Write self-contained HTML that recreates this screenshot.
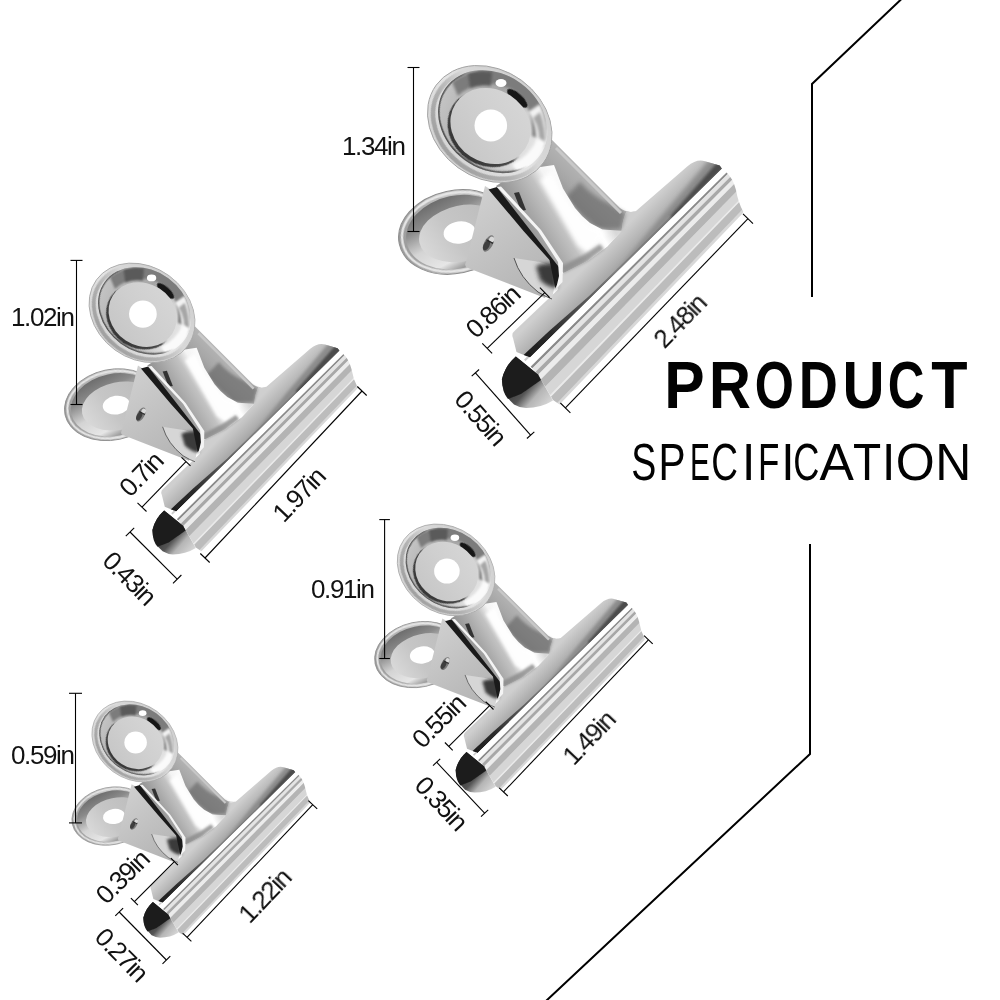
<!DOCTYPE html>
<html><head><meta charset="utf-8"><title>Product Specification</title>
<style>
html,body{margin:0;padding:0;background:#fff;}
svg{display:block;font-family:"Liberation Sans",sans-serif;}
.dl line{stroke:#000;stroke-width:1.1;}
.dt text{font-size:26px;letter-spacing:-1.4px;fill:#111;}
</style></head><body>
<svg width="1000" height="1000" viewBox="0 0 1000 1000">

<defs>
<filter id="b1" x="-10%" y="-10%" width="120%" height="120%"><feGaussianBlur stdDeviation="0.7"/></filter>
<filter id="b15" x="-20%" y="-20%" width="140%" height="140%"><feGaussianBlur stdDeviation="1.4"/></filter>
<filter id="b2" x="-30%" y="-30%" width="160%" height="160%"><feGaussianBlur stdDeviation="2"/></filter>
<linearGradient id="foldg" x1="530" y1="357.5" x2="722" y2="168.7" gradientUnits="userSpaceOnUse">
 <stop offset="0" stop-color="#1e1e1e"/><stop offset="0.12" stop-color="#2c2c2c"/><stop offset="0.3" stop-color="#5a5a5a"/><stop offset="0.45" stop-color="#808080"/><stop offset="0.8" stop-color="#7a7a7a"/>
</linearGradient>
<linearGradient id="plateg" x1="600" y1="252" x2="618" y2="270" gradientUnits="userSpaceOnUse">
 <stop offset="0" stop-color="#cfcfcf"/><stop offset="0.5" stop-color="#bababa"/><stop offset="1" stop-color="#a4a4a4"/>
</linearGradient>
<linearGradient id="tubeg" x1="505" y1="375" x2="545" y2="410" gradientUnits="userSpaceOnUse">
 <stop offset="0" stop-color="#222"/><stop offset="0.5" stop-color="#555"/><stop offset="0.7" stop-color="#b5b5b5"/><stop offset="1" stop-color="#d8d8d8"/>
</linearGradient>
<linearGradient id="bdrim" x1="400" y1="232" x2="510" y2="232" gradientUnits="userSpaceOnUse">
 <stop offset="0" stop-color="#9a9a9a"/><stop offset="0.5" stop-color="#c4c4c4"/><stop offset="1" stop-color="#b0b0b0"/>
</linearGradient>
<linearGradient id="bdwall" x1="430" y1="200" x2="450" y2="270" gradientUnits="userSpaceOnUse">
 <stop offset="0" stop-color="#6c6c6c"/><stop offset="0.25" stop-color="#8a8a8a"/><stop offset="0.55" stop-color="#d4d4d4"/><stop offset="0.85" stop-color="#e6e6e6"/><stop offset="1" stop-color="#9c9c9c"/>
</linearGradient>
<linearGradient id="bdin" x1="420" y1="250" x2="500" y2="215" gradientUnits="userSpaceOnUse">
 <stop offset="0" stop-color="#dadada"/><stop offset="0.4" stop-color="#c6c6c6"/><stop offset="1" stop-color="#bcbcbc"/>
</linearGradient>
<linearGradient id="trig" x1="470" y1="200" x2="540" y2="290" gradientUnits="userSpaceOnUse">
 <stop offset="0" stop-color="#cfcfcf"/><stop offset="1" stop-color="#b4b4b4"/>
</linearGradient>
<linearGradient id="neckside" x1="575" y1="215" x2="600" y2="190" gradientUnits="userSpaceOnUse">
 <stop offset="0" stop-color="#8e8e8e"/><stop offset="0.5" stop-color="#a6a6a6"/><stop offset="1" stop-color="#b4b4b4"/>
</linearGradient>
<linearGradient id="neckfront" x1="515" y1="235" x2="590" y2="190" gradientUnits="userSpaceOnUse">
 <stop offset="0" stop-color="#848484"/><stop offset="0.3" stop-color="#a8a8a8"/><stop offset="0.5" stop-color="#c2c2c2"/><stop offset="0.64" stop-color="#f4f4f4"/><stop offset="0.85" stop-color="#ffffff"/><stop offset="1" stop-color="#d8d8d8"/>
</linearGradient>
<linearGradient id="tdrim" x1="440" y1="170" x2="540" y2="80" gradientUnits="userSpaceOnUse" gradientTransform="rotate(-36 489.75 124)">
 <stop offset="0" stop-color="#cfcfcf"/><stop offset="0.5" stop-color="#e4e4e4"/><stop offset="1" stop-color="#bdbdbd"/>
</linearGradient>
<linearGradient id="tddish" x1="440" y1="100" x2="545" y2="150" gradientUnits="userSpaceOnUse" gradientTransform="rotate(-36 492.7 121.7)">
 <stop offset="0" stop-color="#c4c4c4"/><stop offset="0.45" stop-color="#a6a6a6"/><stop offset="0.8" stop-color="#dcdcdc"/><stop offset="1" stop-color="#ececec"/>
</linearGradient>
<linearGradient id="rimshade" x1="440" y1="165" x2="540" y2="85" gradientUnits="userSpaceOnUse" gradientTransform="rotate(-36 489.75 124)">
 <stop offset="0" stop-color="#9a9a9a"/><stop offset="0.35" stop-color="#b0b0b0"/><stop offset="0.6" stop-color="#d8d8d8"/><stop offset="1" stop-color="#cfcfcf"/>
</linearGradient>
<linearGradient id="e2stroke" x1="440" y1="150" x2="545" y2="95" gradientUnits="userSpaceOnUse" gradientTransform="rotate(-36 492.7 121.7)">
 <stop offset="0" stop-color="#4a4a4a"/><stop offset="0.45" stop-color="#6a6a6a"/><stop offset="0.6" stop-color="#c8c8c8" stop-opacity="0"/><stop offset="1" stop-color="#c8c8c8" stop-opacity="0"/>
</linearGradient>
<linearGradient id="wshadow" x1="450" y1="160" x2="520" y2="100" gradientUnits="userSpaceOnUse" gradientTransform="rotate(-33 488.6 128.2)">
 <stop offset="0" stop-color="#2e2e2e"/><stop offset="0.5" stop-color="#4a4a4a"/><stop offset="0.62" stop-color="#c8c8c8" stop-opacity="0"/><stop offset="1" stop-color="#c8c8c8" stop-opacity="0"/>
</linearGradient>
<linearGradient id="washer" x1="455" y1="150" x2="525" y2="100" gradientUnits="userSpaceOnUse" gradientTransform="rotate(-33 490.5 126)">
 <stop offset="0" stop-color="#c6c6c6"/><stop offset="0.5" stop-color="#cfcfcf"/><stop offset="1" stop-color="#d6d6d6"/>
</linearGradient>
<g id="clip">
<g transform="rotate(-12 455 232)">
<ellipse cx="455" cy="232" rx="57" ry="41.5" fill="url(#bdrim)" stroke="#8e8e8e" stroke-width="1"/>
<ellipse cx="455.5" cy="232" rx="54" ry="39" fill="none" stroke="#e6e6e6" stroke-width="2.4" filter="url(#b1)"/>
<ellipse cx="457" cy="232.5" rx="51.5" ry="36.5" fill="url(#bdwall)"/>
<ellipse cx="462" cy="235" rx="44" ry="28" fill="url(#bdin)"/>
</g>
<ellipse cx="459.5" cy="232.5" rx="16" ry="11" transform="rotate(-8 459.5 232.5)" fill="#fff"/>

<path d="M 513,338 Q 511,333.5 515,330.5 L 557.6,290 L 561.6,274 L 588,260.8 L 607.2,246.4 L 621.6,230.8 Q 622.5,220 626.4,211.6 Q 631,212.5 636,211 L 687.2,166.4 Q 697,158.5 705,161.3 L 719.6,165.5 L 722,168.7 L 530,357.5 L 516.5,352 Z" fill="url(#plateg)"/>
<clipPath id="plateclip"><path d="M 513,338 Q 511,333.5 515,330.5 L 557.6,290 L 561.6,274 L 588,260.8 L 607.2,246.4 L 621.6,230.8 Q 622.5,220 626.4,211.6 Q 631,212.5 636,211 L 687.2,166.4 Q 697,158.5 705,161.3 L 719.6,165.5 L 722,168.7 L 530,357.5 L 516.5,352 Z"/></clipPath>
<g clip-path="url(#plateclip)">
 <polygon points="616.9,273.0 664.9,225.8 734.0,157.9 721.5,145.4 658.7,219.7 616.0,272.2" fill="#8c8c8c" filter="url(#b2)"/>
 <polygon points="520.9,367.4 553.5,335.3 591.9,297.6 636.1,254.2 684.1,207.0 682.0,204.9 634.2,252.2 589.7,295.4 549.2,331.0 515.8,362.3" fill="url(#foldg)" filter="url(#b1)"/>
 <polygon points="672.6,218.3 734.0,157.9 727.2,151.0 670.3,216.0" fill="#4c4c4c" filter="url(#b15)"/>
</g>
<clipPath id="rollclip"><path d="M 517,352 L 530,357.5 L 722,168.7 L 723.6,173.2 L 726,172 Q 733,178 736,190 Q 738,202 743.2,211.6 L 743,213 L 559.6,404.4 L 553,400 L 538,374.4 Z"/></clipPath>
<g clip-path="url(#rollclip)"><g filter="url(#b1)">
<polygon points="507.1,376.2 742.4,145.5 764.9,192.4 540.4,428.5" fill="#cccccc" opacity="1"/>
<polygon points="508.3,378.1 743.2,147.2 746.1,153.2 512.5,384.7" fill="#ffffff" opacity="1"/>
<polygon points="512.5,384.7 746.1,153.2 746.9,154.9 513.8,386.6" fill="#8a8a8a" opacity="1"/>
<polygon points="513.8,386.6 746.9,154.9 748.7,158.7 516.5,390.9" fill="#e4e4e4" opacity="1"/>
<polygon points="516.5,390.9 748.7,158.7 750.2,161.7 518.6,394.2" fill="#a8a8a8" opacity="1"/>
<polygon points="518.6,394.2 750.2,161.7 752.2,166.0 521.6,399.0" fill="#ececec" opacity="1"/>
<polygon points="521.6,399.0 752.2,166.0 755.3,172.4 526.2,406.1" fill="#b4b4b4" opacity="1"/>
<polygon points="526.2,406.1 755.3,172.4 758.8,179.6 531.3,414.2" fill="#d6d6d6" opacity="1"/>
<polygon points="531.3,414.2 758.8,179.6 759.6,181.3 532.5,416.1" fill="#eaeaea" opacity="1"/>
<polygon points="532.5,416.1 759.6,181.3 762.9,188.2 537.4,423.7" fill="#bcbcbc" opacity="1"/>
<polygon points="537.4,423.7 762.9,188.2 764.5,191.6 539.8,427.5" fill="#d8d8d8" opacity="1"/>
</g></g>

<path d="M 515.8,356.4 Q 505,366 502,379.2 Q 502,394 514,404.4 Q 520,408 526,408 Q 541,408 553,400.5 L 538,374.4 Z" fill="url(#tubeg)"/>
<path d="M 515.8,356.4 Q 505,366 502,379.2 Q 502,392 508,399 L 521,394 L 541,380 L 538,374.4 Z" fill="#1c1c1c" filter="url(#b1)"/>

<path d="M 485,186 L 466,262 Q 463.5,266.5 468,268 L 545,298 L 557,266 L 490,189 Z" fill="url(#trig)"/>
<path d="M 514,258 Q 520,278 538,292 L 552,299 L 558,268 L 540,262 Z" fill="#d6d6d6"/>
<path d="M 514,258 Q 520,278 538,292 Q 546,297 552,299" fill="none" stroke="#333" stroke-width="0.8"/>
<path d="M 536,266 Q 545,262 556,264 L 557,288 Q 548,288 540,280 Z" fill="#3a3a3a" filter="url(#b2)"/>
<g transform="rotate(28 488.5 243.5)">
<ellipse cx="488.5" cy="243.5" rx="4.4" ry="9" fill="#7a7a7a"/>
<ellipse cx="487.6" cy="246" rx="2.9" ry="5.5" fill="#3e3e3e"/>
<ellipse cx="489.5" cy="238.5" rx="2.6" ry="3" fill="#d8d8d8"/>
<rect x="485" y="240.6" width="7.5" height="1.3" fill="#2a2a2a"/>
</g>

<!-- right curved side -->
<path d="M 520,150 L 551.6,139.6 L 620,208 Q 626,213 636,211 Q 628,212 626.4,211.6 Q 622.5,220 621.6,230.8 L 563,272 L 510,185 Z" fill="url(#neckside)"/>
<path d="M 566,197 Q 577,212 590,221 L 598,229 L 621,229 Q 623,221 625.5,213.5 L 608,203 Q 592,196 580,182 Z" fill="#6c6c6c" filter="url(#b2)" opacity="0.7"/>
<path d="M 556,148 L 621,213" stroke="#c8c8c8" stroke-width="3" filter="url(#b1)" fill="none"/>
<!-- dark slot -->
<path d="M 488.5,189.5 L 497,187 L 538,231 L 559,262 L 560,280 L 555.2,288 L 549.5,260 L 523.5,231 Z" fill="#1a1a1a"/>
<!-- front face -->
<path d="M 496,186 L 520,170 L 554,165 L 563,188.5 L 575,208 Q 582,217 590,223 L 602.4,229.6 L 621.6,230.8 L 607.2,246.4 L 588,260.8 L 563.5,273 Z" fill="url(#neckfront)"/>
<path d="M 540,180 L 552,172 Q 562,198 588,226 L 606,232 L 588,252 L 578,246 Z" fill="#ffffff" filter="url(#b2)" opacity="0.95"/>
<path d="M 514,193 L 519,192 L 526,210 L 521,211 Z" fill="#333" filter="url(#b1)"/>
<path d="M 563.5,273 L 588,260.8 L 604,249 L 600,244 L 585,254 L 562,266 Z" fill="#8a8a8a" filter="url(#b15)" opacity="0.8"/>
<!-- fold highlight -->
<path d="M 497,187 L 501,186.5 L 541,230 L 563,263 L 562.5,282 L 556,289 L 559,276 L 558,262 L 538,231 Z" fill="#f4f4f4"/>

<g transform="rotate(36 489.75 124)">
<ellipse cx="489.75" cy="124" rx="66.2" ry="54" fill="url(#tdrim)" stroke="#a2a2a2" stroke-width="0.9"/>
<ellipse cx="491" cy="123.5" rx="61.6" ry="50.3" fill="none" stroke="url(#rimshade)" stroke-width="4.5" filter="url(#b1)"/>
</g>
<clipPath id="e2clip"><ellipse cx="492.7" cy="121.7" rx="58" ry="47.6" transform="rotate(36 492.7 121.7)"/></clipPath>
<g transform="rotate(36 492.7 121.7)">
<ellipse cx="492.7" cy="121.7" rx="58" ry="47.6" fill="url(#tddish)"/>
</g>
<g clip-path="url(#e2clip)">
 <!-- upper gray band -->
 <path d="M 452,82 Q 470,68 495,70 Q 525,76 540,100 Q 549,120 545,140 L 532,136 Q 534,112 520,96 Q 505,82 484,84 Q 468,86 458,96 Z" fill="#7c7c7c" filter="url(#b15)"/>
 <path d="M 468,73 Q 480,70 492,72 L 491,86 Q 480,84 470,88 Z" fill="#5a5a5a" filter="url(#b15)"/>
 <ellipse cx="501" cy="83" rx="5.5" ry="4" fill="#fff" filter="url(#b1)"/>
 <ellipse cx="517.3" cy="98.3" rx="13" ry="4.8" transform="rotate(42 517.3 98.3)" fill="#161616" filter="url(#b1)"/>
 <!-- right side light -->
 <path d="M 528,112 Q 538,124 536,150 L 546,146 Q 548,122 540,104 Z" fill="#f2f2f2" filter="url(#b15)"/>
 <path d="M 533,118 Q 541,130 539,150 L 545,146 Q 546,128 540,112 Z" fill="#a6a6a6" filter="url(#b15)"/>
 <!-- lower right highlight -->
 <path d="M 512,164 Q 530,156 538,138 L 546,142 Q 540,164 518,174 Z" fill="#fafafa" filter="url(#b15)"/>
 <!-- bottom gray -->
 <path d="M 478,166 Q 498,174 516,170 L 514,176 Q 495,180 474,172 Z" fill="#9a9a9a" filter="url(#b15)"/>
 <!-- left light ring + dark inner rim line -->
 <g transform="rotate(36 492.7 121.7)"><ellipse cx="492.7" cy="121.7" rx="57.4" ry="47" fill="none" stroke="url(#e2stroke)" stroke-width="2.2" filter="url(#b1)"/></g>
 <!-- washer shadow -->
 <g transform="rotate(33 488.6 128.2)"><ellipse cx="488.6" cy="128.2" rx="42.5" ry="37.5" fill="url(#wshadow)" filter="url(#b1)"/></g>
</g>
<g transform="rotate(33 490.5 126)">
<ellipse cx="490.5" cy="126" rx="41.5" ry="36.5" fill="url(#washer)"/>
</g>
<ellipse cx="490.8" cy="125.5" rx="16.3" ry="16" fill="#fff"/>
</g>
</defs>

<rect width="1000" height="1000" fill="#fff"/>
<use href="#clip"/><use href="#clip" transform="translate(-274.57 207.37) scale(0.8506)"/><use href="#clip" transform="translate(62.11 472.68) scale(0.784)"/><use href="#clip" transform="translate(-203.43 655.8) scale(0.6908)"/>
<g class="dl"><line x1="413.5" y1="67.5" x2="413.5" y2="231.5"/><line x1="419.5" y1="67.5" x2="407.5" y2="67.5"/><line x1="419.5" y1="231.5" x2="407.5" y2="231.5"/><line x1="487.2" y1="348.4" x2="544.8" y2="292.6"/><line x1="482.3" y1="343.4" x2="492.1" y2="353.4"/><line x1="539.9" y1="287.6" x2="549.7" y2="297.6"/><line x1="475.4" y1="372.8" x2="530.6" y2="435.2"/><line x1="479.1" y1="369.5" x2="471.7" y2="376.1"/><line x1="534.3" y1="431.9" x2="526.9" y2="438.5"/><line x1="565.4" y1="407.9" x2="748.0" y2="218.7"/><line x1="560.4" y1="403.0" x2="570.4" y2="412.8"/><line x1="743.0" y1="213.8" x2="753.0" y2="223.6"/><line x1="76.5" y1="260.4" x2="76.5" y2="404.5"/><line x1="82.5" y1="260.4" x2="70.5" y2="260.4"/><line x1="82.5" y1="404.5" x2="70.5" y2="404.5"/><line x1="142.0" y1="507.2" x2="186.0" y2="461.6"/><line x1="137.5" y1="502.9" x2="146.5" y2="511.5"/><line x1="181.5" y1="457.3" x2="190.5" y2="465.9"/><line x1="130.0" y1="532.0" x2="177.2" y2="579.2"/><line x1="134.2" y1="527.8" x2="125.8" y2="536.2"/><line x1="181.4" y1="575.0" x2="173.0" y2="583.4"/><line x1="205.0" y1="558.0" x2="362.0" y2="391.0"/><line x1="200.3" y1="553.5" x2="209.7" y2="562.5"/><line x1="357.3" y1="386.5" x2="366.7" y2="395.5"/><line x1="384.6" y1="519.6" x2="384.6" y2="658.5"/><line x1="389.9" y1="519.6" x2="379.3" y2="519.6"/><line x1="389.9" y1="658.5" x2="379.3" y2="658.5"/><line x1="448.8" y1="746.4" x2="489.6" y2="705.6"/><line x1="444.9" y1="742.5" x2="452.7" y2="750.3"/><line x1="485.7" y1="701.7" x2="493.5" y2="709.5"/><line x1="436.6" y1="762.2" x2="484.6" y2="813.2"/><line x1="440.2" y1="758.8" x2="433.0" y2="765.6"/><line x1="488.2" y1="809.8" x2="481.0" y2="816.6"/><line x1="503.5" y1="791.9" x2="648.4" y2="639.8"/><line x1="499.2" y1="787.8" x2="507.8" y2="796.0"/><line x1="644.1" y1="635.7" x2="652.7" y2="643.9"/><line x1="75.5" y1="693.3" x2="75.5" y2="822.9"/><line x1="82.0" y1="693.3" x2="69.0" y2="693.3"/><line x1="82.0" y1="822.9" x2="69.0" y2="822.9"/><line x1="134.4" y1="901.6" x2="174.4" y2="861.6"/><line x1="130.9" y1="898.1" x2="137.9" y2="905.1"/><line x1="170.9" y1="858.1" x2="177.9" y2="865.1"/><line x1="119.2" y1="912.0" x2="166.4" y2="960.0"/><line x1="123.1" y1="908.1" x2="115.3" y2="915.9"/><line x1="170.3" y1="956.1" x2="162.5" y2="963.9"/><line x1="187.0" y1="937.3" x2="312.8" y2="804.7"/><line x1="182.6" y1="933.2" x2="191.4" y2="941.4"/><line x1="308.4" y1="800.6" x2="317.2" y2="808.8"/></g>
<g class="dt" opacity="0.995"><text x="342" y="155.1">1.34in</text><text x="492.5" y="311.5" transform="rotate(-43 492.5 311.5)" text-anchor="middle" dy="9.2">0.86in</text><text x="480.5" y="417.6" transform="rotate(48.5 480.5 417.6)" text-anchor="middle" dy="9.2">0.55in</text><text x="679.7" y="321" transform="rotate(-46 679.7 321)" text-anchor="middle" dy="9.2">2.48in</text><text x="11" y="326">1.02in</text><text x="140.8" y="474.2" transform="rotate(-46 140.8 474.2)" text-anchor="middle" dy="9.2">0.7in</text><text x="129.5" y="577.8" transform="rotate(45 129.5 577.8)" text-anchor="middle" dy="9.2">0.43in</text><text x="298.6" y="494.7" transform="rotate(-46.5 298.6 494.7)" text-anchor="middle" dy="9.2">1.97in</text><text x="311" y="598.25">0.91in</text><text x="438.3" y="721.1" transform="rotate(-45 438.3 721.1)" text-anchor="middle" dy="9.2">0.55in</text><text x="441.3" y="802.9" transform="rotate(46.7 441.3 802.9)" text-anchor="middle" dy="9.2">0.35in</text><text x="588.4" y="737.5" transform="rotate(-46.4 588.4 737.5)" text-anchor="middle" dy="9.2">1.49in</text><text x="11" y="764.3">0.59in</text><text x="122.1" y="876.8" transform="rotate(-45 122.1 876.8)" text-anchor="middle" dy="9.2">0.39in</text><text x="121.7" y="954.4" transform="rotate(45.5 121.7 954.4)" text-anchor="middle" dy="9.2">0.27in</text><text x="264.4" y="895.7" transform="rotate(-46.5 264.4 895.7)" text-anchor="middle" dy="9.2">1.22in</text></g>
<polyline points="901.5,-1 812,84 812,297" fill="none" stroke="#000" stroke-width="2" stroke-linejoin="miter"/><polyline points="810,544 810,754 546,1001" fill="none" stroke="#000" stroke-width="2" stroke-linejoin="miter"/>
<g opacity="0.995"><text transform="translate(664.14 407.8) scale(0.918 1)" font-size="66" font-weight="700">P</text><text transform="translate(709.11 407.8) scale(0.879 1)" font-size="66" font-weight="700">R</text><text transform="translate(754.74 407.8) scale(0.763 1)" font-size="66" font-weight="700">O</text><text transform="translate(798.67 407.8) scale(0.821 1)" font-size="66" font-weight="700">D</text><text transform="translate(842.51 407.8) scale(0.882 1)" font-size="66" font-weight="700">U</text><text transform="translate(887.72 407.8) scale(0.769 1)" font-size="66" font-weight="700">C</text><text transform="translate(931.15 407.8) scale(0.900 1)" font-size="66" font-weight="700">T</text><text transform="translate(631.37 480) scale(0.738 1)" font-size="50.9" font-weight="400">S</text><text transform="translate(658.57 480) scale(0.798 1)" font-size="50.9" font-weight="400">P</text><text transform="translate(690.05 480) scale(0.587 1)" font-size="50.9" font-weight="400">E</text><text transform="translate(711.31 480) scale(0.726 1)" font-size="50.9" font-weight="400">C</text><text transform="translate(742.10 480) scale(0.941 1)" font-size="50.9" font-weight="400">I</text><text transform="translate(758.03 480) scale(0.687 1)" font-size="50.9" font-weight="400">F</text><text transform="translate(781.30 480) scale(0.941 1)" font-size="50.9" font-weight="400">I</text><text transform="translate(793.15 480) scale(0.711 1)" font-size="50.9" font-weight="400">C</text><text transform="translate(819.60 480) scale(1.013 1)" font-size="50.9" font-weight="400">A</text><text transform="translate(852.89 480) scale(0.906 1)" font-size="50.9" font-weight="400">T</text><text transform="translate(881.90 480) scale(0.941 1)" font-size="50.9" font-weight="400">I</text><text transform="translate(895.65 480) scale(0.984 1)" font-size="50.9" font-weight="400">O</text><text transform="translate(935.31 480) scale(0.981 1)" font-size="50.9" font-weight="400">N</text></g>
</svg>
</body></html>
